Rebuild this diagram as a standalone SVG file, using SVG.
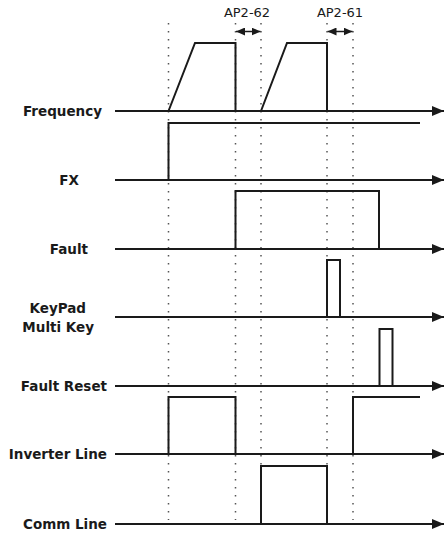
<svg xmlns="http://www.w3.org/2000/svg" width="445" height="533" viewBox="0 0 445 533">
<style>
.lbl{font-family:"DejaVu Sans","Noto Sans",sans-serif;font-weight:bold;font-size:13.5px;fill:#1a1a1a;text-anchor:end}
.tag{font-family:"DejaVu Sans","Noto Sans",sans-serif;font-size:13px;fill:#1a1a1a;text-anchor:middle}
.axis{stroke:#1a1a1a;stroke-width:2;fill:none}
.sig{stroke:#1a1a1a;stroke-width:2;fill:none;stroke-linejoin:miter}
.dot{stroke:#555;stroke-width:1.5;stroke-dasharray:1.4 6.6;fill:none}
.dim{stroke:#1a1a1a;stroke-width:1.5;fill:none}
</style>
<defs>
<marker id="ah" markerWidth="12" markerHeight="10" refX="12" refY="5" orient="auto" markerUnits="userSpaceOnUse">
<path d="M0,0 L12,5 L0,10 Z" fill="#1a1a1a"/>
</marker>
<marker id="sh" markerWidth="9" markerHeight="8" refX="9" refY="4" orient="auto-start-reverse" markerUnits="userSpaceOnUse">
<path d="M0,0 L9,4 L0,8 Z" fill="#1a1a1a"/>
</marker>
</defs>
<g id="guides">
<line class="dot" x1="168.5" y1="23" x2="168.5" y2="520"/>
<line class="dot" x1="235.5" y1="23" x2="235.5" y2="520"/>
<line class="dot" x1="261" y1="23" x2="261" y2="520"/>
<line class="dot" x1="327" y1="23" x2="327" y2="520"/>
<line class="dot" x1="353" y1="23" x2="353" y2="520"/>
</g>
<g id="connectors">
<line class="axis" x1="115" y1="111" x2="444" y2="111" marker-end="url(#ah)"/>
<line class="axis" x1="115" y1="180" x2="444" y2="180" marker-end="url(#ah)"/>
<line class="axis" x1="115" y1="249" x2="444" y2="249" marker-end="url(#ah)"/>
<line class="axis" x1="115" y1="317" x2="444" y2="317" marker-end="url(#ah)"/>
<line class="axis" x1="115" y1="386" x2="444" y2="386" marker-end="url(#ah)"/>
<line class="axis" x1="115" y1="454" x2="444" y2="454" marker-end="url(#ah)"/>
<line class="axis" x1="115" y1="524" x2="444" y2="524" marker-end="url(#ah)"/>
<line class="dim" x1="236" y1="31.5" x2="260.5" y2="31.5" marker-start="url(#sh)" marker-end="url(#sh)"/>
<line class="dim" x1="327.5" y1="31.5" x2="352.5" y2="31.5" marker-start="url(#sh)" marker-end="url(#sh)"/>
</g>
<g id="frequency">
<text class="lbl" x="102" y="116">Frequency</text>
<polyline class="sig" points="168.5,111 195,43 235.5,43 235.5,111"/>
<polyline class="sig" points="261,111 287,43 327,43 327,111"/>
</g>
<g id="ap2-62"><text class="tag" x="247" y="17">AP2-62</text></g>
<g id="ap2-61"><text class="tag" x="340" y="17">AP2-61</text></g>
<g id="fx">
<text class="lbl" x="79" y="185">FX</text>
<polyline class="sig" points="168.5,180 168.5,123 420,123"/>
</g>
<g id="fault">
<text class="lbl" x="88" y="254">Fault</text>
<polyline class="sig" points="235.5,249 235.5,191 379,191 379,249"/>
</g>
<g id="keypad">
<text class="lbl" x="86" y="313">KeyPad</text>
<text class="lbl" x="94" y="332">Multi Key</text>
<polyline class="sig" points="327,317 327,260 340,260 340,317"/>
</g>
<g id="fault-reset">
<text class="lbl" x="107" y="391">Fault Reset</text>
<polyline class="sig" points="379.5,386 379.5,329 392.5,329 392.5,386"/>
</g>
<g id="inverter-line">
<text class="lbl" x="107" y="459">Inverter Line</text>
<polyline class="sig" points="168.5,454 168.5,397 235.5,397 235.5,454"/>
<polyline class="sig" points="353,454 353,397 420,397"/>
</g>
<g id="comm-line">
<text class="lbl" x="107" y="529">Comm Line</text>
<polyline class="sig" points="261,524 261,466 327,466 327,524"/>
</g>
</svg>
